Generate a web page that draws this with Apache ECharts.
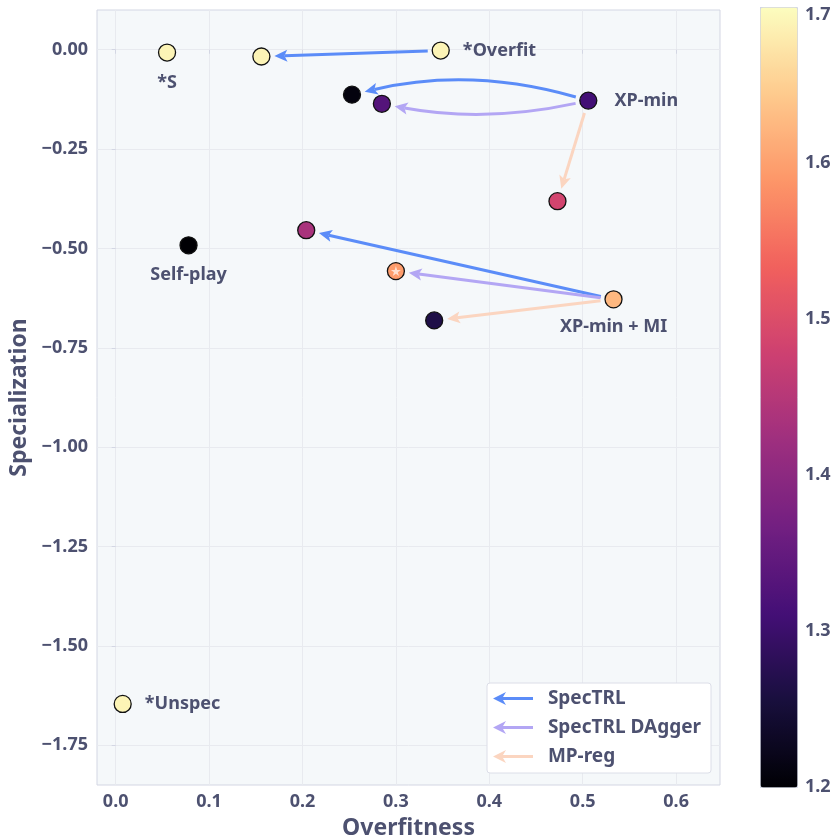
<!DOCTYPE html>
<html><head><meta charset="utf-8">
<script src="https://cdn.jsdelivr.net/npm/echarts@6/dist/echarts.min.js"></script>
<style>html,body{margin:0;padding:0;background:#fff}#c{width:838px;height:840px}</style>
</head><body><div id="c"></div>
<script>
// ---- data ----
const pointNames = ['*S','*Overfit','','XP-min','','','','Self-play','XP-min + MI','','','','*Unspec'];
const overfitness = [0.055,0.348,0.156,0.506,0.253,0.285,0.473,0.078,0.533,0.204,0.300,0.341,0.0075];
const specialization = [-0.007,-0.002,-0.017,-0.128,-0.113,-0.136,-0.381,-0.492,-0.628,-0.454,-0.557,-0.681,-1.646];
const colorValue = [1.69,1.69,1.69,1.31,1.21,1.33,1.485,1.2,1.625,1.435,1.595,1.265,1.69];
const starredPoints = [10];
const arrowKinds = ['SpecTRL','SpecTRL DAgger','MP-reg'];
const arrowKind = [0,0,1,2,0,1,2];
const arrowFrom = [1,3,3,3,8,8,8];
const arrowTo   = [2,4,5,6,9,10,11];
const xTicks = [0,0.1,0.2,0.3,0.4,0.5,0.6];
const yTicks = [0,-0.25,-0.5,-0.75,-1,-1.25,-1.5,-1.75];
const colorbarTicks = [1.2,1.3,1.4,1.5,1.6,1.7];

// ---- styles ----
const FONT = 'Noto Sans';
const TXT = '#4d5170';
const arrowColors = ['#5b8cf8','#b3a6f4','#fbd5c0'];
const arrowCurve = {1: 0.13, 2: -0.1};
const labelStyle = {
  '*S': {position:'bottom', distance:12},
  '*Overfit': {position:'right', distance:13},
  'XP-min': {position:'right', distance:17},
  'Self-play': {position:'bottom', distance:11},
  'XP-min + MI': {position:'bottom', distance:9},
  '*Unspec': {position:'right', distance:13}
};
const magma = ['#000004','#180f3d','#440f76','#721f81','#9e2f7f','#cd4071','#f1605d','#fd9668','#feca8d','#fcfdbf'];

const scatterData = overfitness.map((x,i)=>{
  const nm = pointNames[i];
  const ls = labelStyle[nm];
  return {
    value:[x, specialization[i], colorValue[i]],
    name: nm,
    label: ls ? {show:true, position:ls.position, distance:ls.distance} : {show:false}
  };
});
const starData = starredPoints.map(i=>[overfitness[i], specialization[i]]);

function renderArrow(params, api){
  const p1 = api.coord([api.value(0), api.value(1)]);
  const p2 = api.coord([api.value(2), api.value(3)]);
  const curv = arrowCurve[api.value(4)] || 0;
  const color = api.visual('color');
  const dx = p2[0]-p1[0], dy = p2[1]-p1[1], L = Math.hypot(dx,dy);
  const nx = -dy/L, ny = dx/L;
  const c = [(p1[0]+p2[0])/2 + nx*curv*L, (p1[1]+p2[1])/2 + ny*curv*L];
  const unit = (a,b)=>{const ex=b[0]-a[0], ey=b[1]-a[1], l=Math.hypot(ex,ey); return [ex/l, ey/l];};
  const gap0 = 13, gap1 = 13, headLen = 13, hw = 6, notch = 3;
  const u1 = unit(p1, c), u2 = unit(c, p2);
  const s = [p1[0]+u1[0]*gap0, p1[1]+u1[1]*gap0];
  const tip = [p2[0]-u2[0]*gap1, p2[1]-u2[1]*gap1];
  const base = [tip[0]-u2[0]*(headLen-notch), tip[1]-u2[1]*(headLen-notch)];
  const px = -u2[1], py = u2[0];
  const back = [tip[0]-u2[0]*headLen, tip[1]-u2[1]*headLen];
  const head = [tip, [back[0]+px*hw, back[1]+py*hw], base, [back[0]-px*hw, back[1]-py*hw]];
  const shaft = curv ? {
    type:'bezierCurve',
    shape:{x1:s[0], y1:s[1], x2:base[0], y2:base[1], cpx1:c[0], cpy1:c[1]},
    style:{stroke:color, lineWidth:3, fill:null}
  } : {
    type:'line',
    shape:{x1:s[0], y1:s[1], x2:base[0], y2:base[1]},
    style:{stroke:color, lineWidth:3}
  };
  return {type:'group', children:[shaft, {type:'polygon', shape:{points:head}, style:{fill:color}}]};
}

const arrowSeries = arrowKinds.map((kind,k)=>({
  type:'custom', name:kind, coordinateSystem:'cartesian2d', xAxisIndex:0, yAxisIndex:0,
  itemStyle:{color:arrowColors[k]}, z:3, clip:false, silent:true,
  renderItem: renderArrow,
  data: arrowFrom.map((f,i)=>({f,i})).filter(o=>arrowKind[o.i]===k).map(o=>[
    overfitness[o.f], specialization[o.f], overfitness[arrowTo[o.i]], specialization[arrowTo[o.i]], o.i])
}));

const fmtY = v => (v<0?'\u2212':'') + Math.abs(v).toFixed(2);
const cbMax = colorbarTicks[colorbarTicks.length-1];
const chart = echarts.init(document.getElementById('c'));
chart.setOption({
  backgroundColor:'#ffffff',
  animation:false,
  textStyle:{fontFamily:FONT},
  grid:[
    {left:97, right:118, top:10, bottom:55, outerBoundsMode:'none', containLabel:false,
     show:true, backgroundColor:'#f5f8fa', borderColor:'#d3d6e3', borderWidth:1},
    {left:760, top:7, width:37, height:780, outerBoundsMode:'none', containLabel:false, show:false}
  ],
  xAxis:[
    {type:'value', gridIndex:0, min:-0.02, max:0.647,
     name:'Overfitness', nameLocation:'middle', nameGap:32,
     nameTextStyle:{fontFamily:FONT, fontSize:23, fontWeight:'bold', color:TXT},
     axisLine:{show:false},
     axisTick:{show:true, length:4, customValues:xTicks, lineStyle:{color:'#d3d6e3'}},
     axisLabel:{customValues:xTicks, formatter:v=>v.toFixed(1), fontFamily:FONT, fontSize:18, fontWeight:'bold', color:TXT, margin:8},
     splitLine:{show:true, lineStyle:{color:'#e8eaef', width:1}}},
    {type:'value', gridIndex:1, show:false, min:0, max:1}
  ],
  yAxis:[
    {type:'value', gridIndex:0, min:-1.85, max:0.1,
     name:'Specialization', nameLocation:'middle', nameGap:55, nameRotate:90,
     nameTextStyle:{fontFamily:FONT, fontSize:23, fontWeight:'bold', color:TXT},
     axisLine:{show:false},
     axisTick:{show:true, length:4, customValues:yTicks, lineStyle:{color:'#d3d6e3'}},
     axisLabel:{customValues:yTicks, formatter:fmtY, fontFamily:FONT, fontSize:18, fontWeight:'bold', color:TXT, margin:9},
     splitLine:{show:true, lineStyle:{color:'#e8eaef', width:1}}},
    {type:'value', gridIndex:1, position:'right', min:1.2, max:1.7, interval:0.1,
     axisLine:{show:false},
     axisTick:{show:true, length:5, lineStyle:{color:'#d3d6e3'}},
     axisLabel:{customValues:colorbarTicks,
       formatter:v=> Math.abs(v-cbMax)<1e-6 ? '{s|}\n' + v.toFixed(1) : v.toFixed(1),
       rich:{s:{lineHeight:15, height:15, fontSize:1}},
       fontFamily:FONT, fontSize:18, fontWeight:'bold', color:TXT, margin:8},
     splitLine:{show:false}}
  ],
  visualMap:{
    type:'continuous', min:1.2, max:1.7, dimension:2, seriesIndex:3,
    left:760, top:7, itemWidth:37, itemHeight:780, padding:0,
    calculable:false, hoverLink:false, text:null,
    borderColor:'#d3d6e3', borderWidth:1,
    inRange:{color:magma}
  },
  legend:{
    data:arrowKinds, orient:'vertical', left:487, top:683,
    padding:[6,10,7,6], itemGap:10, itemWidth:40, itemHeight:14,
    icon:'path://M0,7 L13,0.5 L10,5.5 L40,5.5 L40,8.5 L10,8.5 L13,13.5 Z',
    backgroundColor:'#ffffff', borderColor:'#dcdee8', borderWidth:1, borderRadius:3,
    formatter: n => '  ' + n,
    textStyle:{fontFamily:FONT, fontSize:19, fontWeight:'bold', color:TXT},
    selectedMode:false
  },
  series:[
    ...arrowSeries,
    {type:'scatter', name:'points', xAxisIndex:0, yAxisIndex:0, z:5,
     symbolSize:17, itemStyle:{borderColor:'#111111', borderWidth:1.3, opacity:1},
     label:{formatter:'{b}', fontFamily:FONT, fontSize:18, fontWeight:'bold', color:TXT},
     data:scatterData},
    {type:'scatter', name:'star', xAxisIndex:0, yAxisIndex:0, z:6, silent:true,
     symbol:'path://M50,0 L61.8,35.1 L98.9,35.1 L68.9,56.9 L80.3,91.9 L50,70.2 L19.7,91.9 L31.1,56.9 L1.1,35.1 L38.2,35.1 Z',
     symbolSize:10, itemStyle:{color:'rgba(255,244,238,0.95)'},
     data:starData}
  ]
});
</script>
</body></html>
